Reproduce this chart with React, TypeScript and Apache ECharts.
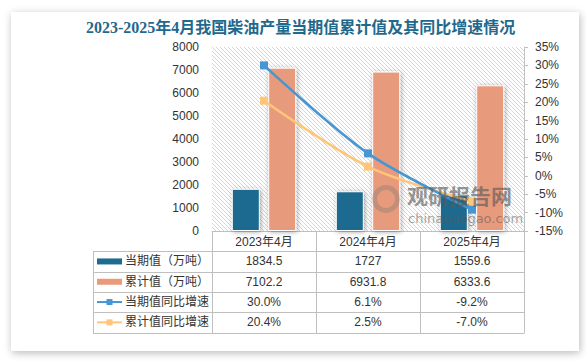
import React, { useEffect, useRef } from "react";
import * as echarts from "echarts";

const titleText = "2023-2025年4月我国柴油产量当期值累计值及其同比增速情况";
const categories = ["2023年4月", "2024年4月", "2025年4月"];
const currentValues = [1834.5, 1727, 1559.6];
const cumulativeValues = [7102.2, 6931.8, 6333.6];
const currentYoY = [30.0, 6.1, -9.2];
const cumulativeYoY = [20.4, 2.5, -7.0];
const seriesNames = ["当期值（万吨）", "累计值（万吨）", "当期值同比增速", "累计值同比增速"];
const leftAxis = { min: 0, max: 8000, interval: 1000 };
const rightAxis = { min: -15, max: 35, interval: 5 };

const COLORS = ["#1D6B8F", "#E89A7B", "#4596D3", "#FFC578"];
const FONT = "'Liberation Sans','Noto Sans CJK SC',sans-serif";
const TEXT_COLOR = "#333333";
const LINE_COLOR = "#BFBFBF";

// layout
const W = 586;
const H = 363;
const GRID_LEFT = 212;
const GRID_RIGHT = 62;
const GRID_TOP = 47;
const GRID_BOTTOM = 132;
const TABLE_LEFT = 93;
const ROW_H = 20.3;
const HATCH_STEP = 4;

export default function App() {
  const ref = useRef<HTMLDivElement>(null);

  useEffect(() => {
    if (!ref.current) return;
    const chart = echarts.init(ref.current, null, { renderer: "svg" });

    const plotRight = W - GRID_RIGHT;
    const axisY = H - GRID_BOTTOM;
    const catW = (plotRight - GRID_LEFT) / categories.length;
    const nRows = 4;
    const tableBottom = axisY + ROW_H * (nRows + 1);

    const g: any[] = [];

    // hatched plot background: lines going down-right (x - y = k), clipped to the plot box
    const x0 = GRID_LEFT, x1 = plotRight, y0 = GRID_TOP, y1 = axisY;
    const hatchLines: any[] = [];
    for (let k = x0 - y1; k <= x1 - y0; k += HATCH_STEP) {
      // points on line x = y + k
      let ax = Math.max(x0, y0 + k);
      let ay = ax - k;
      let bx = Math.min(x1, y1 + k);
      let by = bx - k;
      if (bx <= ax) continue;
      hatchLines.push({
        type: "line",
        shape: { x1: ax, y1: ay, x2: bx, y2: by },
        style: { stroke: "#D6D6D6", lineWidth: 1 },
        silent: true,
      });
    }
    g.push({ type: "group", children: hatchLines, z: -10, silent: true });

    // horizontal lines
    for (let r = 1; r <= nRows + 1; r++) {
      const y = Math.round(axisY + ROW_H * r) + 0.5;
      g.push({
        type: "line",
        shape: { x1: TABLE_LEFT, y1: y, x2: plotRight, y2: y },
        style: { stroke: LINE_COLOR, lineWidth: 1 },
        silent: true,
      });
    }
    // vertical lines
    const vx = [GRID_LEFT];
    for (let i = 1; i <= categories.length; i++) vx.push(GRID_LEFT + catW * i);
    vx.forEach((x) => {
      const xx = Math.round(x) + 0.5;
      g.push({
        type: "line",
        shape: { x1: xx, y1: axisY, x2: xx, y2: Math.round(tableBottom) + 0.5 },
        style: { stroke: LINE_COLOR, lineWidth: 1 },
        silent: true,
      });
    });
    g.push({
      type: "line",
      shape: {
        x1: TABLE_LEFT + 0.5,
        y1: Math.round(axisY + ROW_H) + 0.5,
        x2: TABLE_LEFT + 0.5,
        y2: Math.round(tableBottom) + 0.5,
      },
      style: { stroke: LINE_COLOR, lineWidth: 1 },
      silent: true,
    });

    const rows = [
      currentValues.map((v) => String(v)),
      cumulativeValues.map((v) => String(v)),
      currentYoY.map((v) => v.toFixed(1) + "%"),
      cumulativeYoY.map((v) => v.toFixed(1) + "%"),
    ];
    rows.forEach((vals, r) => {
      const cy = axisY + ROW_H * (r + 1.5);
      if (r < 2) {
        g.push({
          type: "rect",
          shape: { x: 97, y: cy - 3, width: 25, height: 6 },
          style: { fill: COLORS[r] },
          silent: true,
        });
      } else {
        g.push({
          type: "line",
          shape: { x1: 97, y1: cy, x2: 122, y2: cy },
          style: { stroke: COLORS[r], lineWidth: 2 },
          silent: true,
        });
        g.push({
          type: "rect",
          shape: { x: 106.5, y: cy - 3, width: 6, height: 6 },
          style: { fill: COLORS[r] },
          silent: true,
        });
      }
      g.push({
        type: "text",
        x: 125,
        y: cy,
        style: {
          text: seriesNames[r],
          fill: TEXT_COLOR,
          font: `12px ${FONT}`,
          verticalAlign: "middle",
          align: "left",
        },
        silent: true,
      });
      vals.forEach((t, i) => {
        g.push({
          type: "text",
          x: GRID_LEFT + catW * (i + 0.5),
          y: cy,
          style: {
            text: t,
            fill: TEXT_COLOR,
            font: `12px ${FONT}`,
            verticalAlign: "middle",
            align: "center",
          },
          silent: true,
        });
      });
    });

    // title
    g.push({
      type: "text",
      x: 86,
      y: 27,
      style: {
        text: titleText,
        fill: "#1F6A8C",
        font: `bold 16px 'Liberation Serif','Noto Sans CJK SC',serif`,
        verticalAlign: "middle",
        align: "left",
      },
      silent: true,
    });

    // watermark
    g.push({
      type: "ring",
      shape: { cx: 386, cy: 199, r: 14, r0: 9 },
      style: { fill: "rgba(120,120,120,0.35)" },
      z: 100,
      silent: true,
    });
    g.push({
      type: "text",
      x: 407,
      y: 195,
      style: {
        text: "观研报告网",
        fill: "rgba(90,90,90,0.65)",
        font: `bold 21px 'Noto Sans CJK SC',sans-serif`,
        verticalAlign: "middle",
        align: "left",
      },
      z: 100,
      silent: true,
    });
    g.push({
      type: "text",
      x: 408,
      y: 218,
      style: {
        text: "chinabaogao.com",
        fill: "rgba(90,90,90,0.55)",
        font: `13px 'DejaVu Sans',sans-serif`,
        verticalAlign: "middle",
        align: "left",
      },
      z: 100,
      silent: true,
    });

    const barShadow = {
      shadowBlur: 5,
      shadowColor: "rgba(0,0,0,0.35)",
      shadowOffsetX: 1,
      shadowOffsetY: 1,
    };

    chart.setOption({
      animation: false,
      textStyle: { fontFamily: FONT },
      grid: {
        left: GRID_LEFT,
        right: GRID_RIGHT,
        top: GRID_TOP,
        bottom: GRID_BOTTOM,
        show: false,
      },
      xAxis: {
        type: "category",
        data: categories,
        axisLine: { show: true, lineStyle: { color: LINE_COLOR, width: 1 } },
        axisTick: { show: false },
        axisLabel: { color: TEXT_COLOR, fontSize: 12, margin: 5, fontFamily: FONT },
      },
      yAxis: [
        {
          type: "value",
          min: leftAxis.min,
          max: leftAxis.max,
          interval: leftAxis.interval,
          axisLine: { show: false },
          axisTick: { show: false },
          splitLine: { show: false },
          axisLabel: {
            color: TEXT_COLOR,
            fontSize: 12,
            margin: 13,
            fontFamily: FONT,
            formatter: (v: number) => String(v),
          },
        },
        {
          type: "value",
          min: rightAxis.min,
          max: rightAxis.max,
          interval: rightAxis.interval,
          position: "right",
          axisLine: { show: true, lineStyle: { color: LINE_COLOR } },
          axisTick: { show: true, length: 4, lineStyle: { color: LINE_COLOR } },
          splitLine: { show: false },
          axisLabel: {
            color: TEXT_COLOR,
            fontSize: 12,
            margin: 11,
            fontFamily: FONT,
            formatter: (v: number) => `${v}%`,
          },
        },
      ],
      series: [
        {
          name: seriesNames[0],
          type: "bar",
          data: currentValues,
          barWidth: 28,
          barGap: "30%",
          itemStyle: { color: COLORS[0], borderColor: "#ffffff", borderWidth: 1, ...barShadow },
        },
        {
          name: seriesNames[1],
          type: "bar",
          data: cumulativeValues,
          barWidth: 28,
          barGap: "30%",
          itemStyle: { color: COLORS[1], borderColor: "#ffffff", borderWidth: 1, ...barShadow },
        },
        {
          name: seriesNames[2],
          type: "line",
          yAxisIndex: 1,
          data: currentYoY,
          smooth: 0.3,
          symbol: "rect",
          symbolSize: 8,
          lineStyle: { color: COLORS[2], width: 2.5 },
          itemStyle: { color: COLORS[2] },
          z: 5,
        },
        {
          name: seriesNames[3],
          type: "line",
          yAxisIndex: 1,
          data: cumulativeYoY,
          smooth: 0.3,
          symbol: "rect",
          symbolSize: 8,
          lineStyle: { color: COLORS[3], width: 2.5 },
          itemStyle: { color: COLORS[3] },
          z: 4,
        },
      ],
      graphic: g,
    });

    return () => chart.dispose();
  }, []);

  return (
    <div
      style={{
        position: "fixed",
        left: 0,
        top: 0,
        width: W,
        height: H,
        background: "#ffffff",
        overflow: "hidden",
      }}
    >
      <div
        style={{
          position: "absolute",
          left: 11,
          top: 12,
          width: 568,
          height: 339,
          background: "#ffffff",
          boxShadow: "1px 2px 8px rgba(0,0,0,0.28)",
        }}
      />
      <div ref={ref} style={{ position: "absolute", left: 0, top: 0, width: W, height: H }} />
    </div>
  );
}
